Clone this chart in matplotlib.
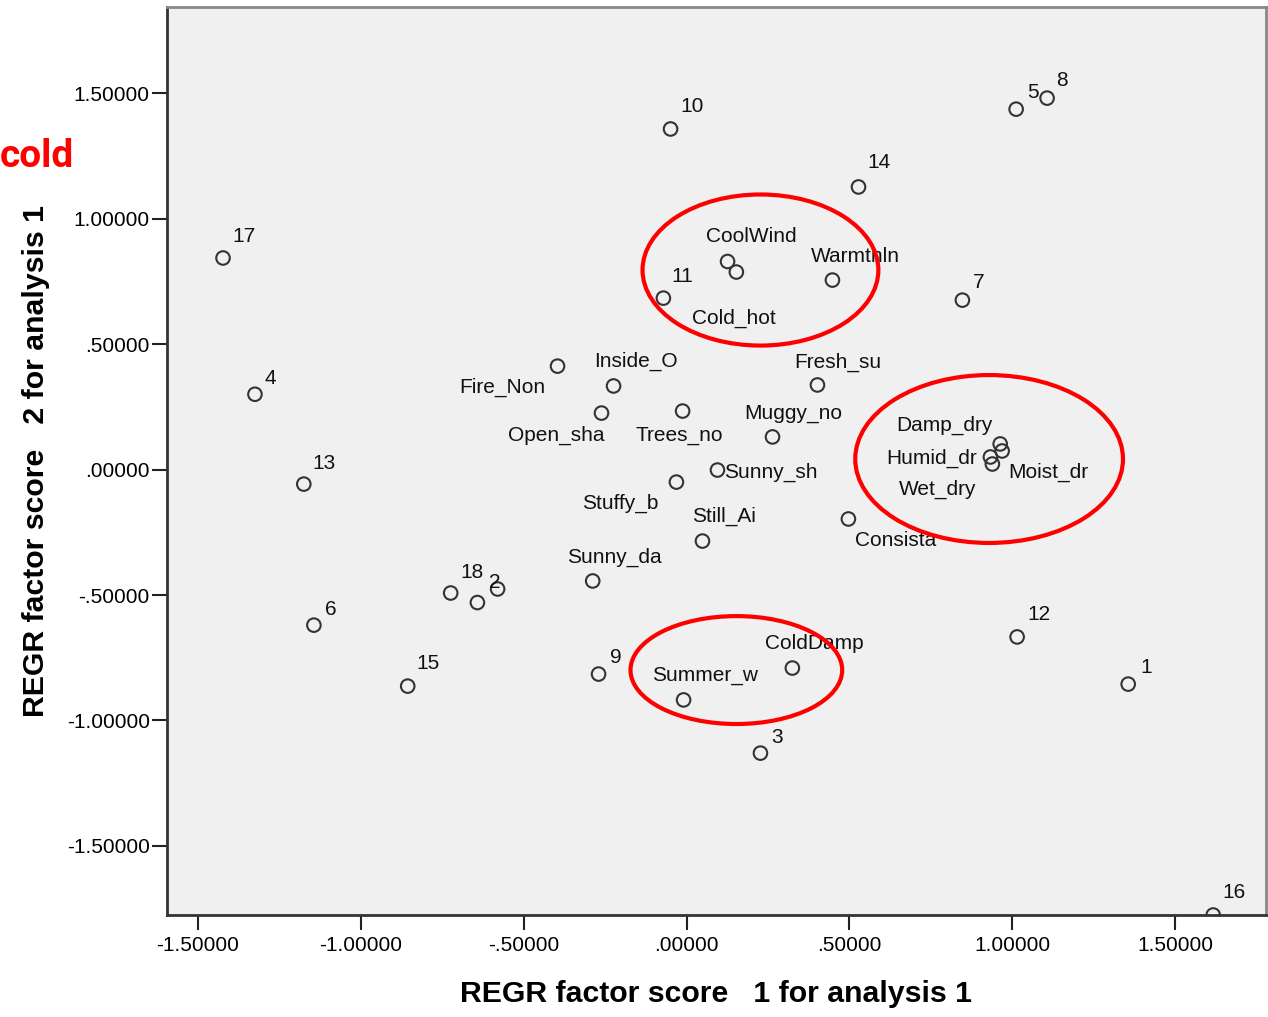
import matplotlib.pyplot as plt
from matplotlib.patches import Ellipse

plt.rcParams['font.family'] = ['Liberation Sans', 'DejaVu Sans']

# case scores (factor 1, factor 2)
case_ids = ['1', '2', '3', '4', '5', '6', '7', '8', '9', '10',
            '11', '12', '13', '14', '15', '16', '17', '18']
case_f1 = [1.356, -0.642, 0.227, -1.325, 1.012, -1.144, 0.847, 1.107, -0.270, -0.049,
           -0.071, 1.015, -1.175, 0.528, -0.856, 1.617, -1.423, -0.724]
case_f2 = [-0.855, -0.530, -1.130, 0.300, 1.436, -0.620, 0.675, 1.480, -0.815, 1.357,
           0.683, -0.667, -0.058, 1.126, -0.863, -1.775, 0.843, -0.492]
case_off = [(12, 17), (12, 20), (11, 16), (10, 16), (11, 17), (11, 16), (10, 18), (9, 18), (11, 17), (10, 22),
            (8, 22), (10, 22), (9, 21), (9, 24), (9, 23), (9, 22), (9, 21), (10, 21)]

# variable scores
var_names = ['CoolWind', 'Cold_hot', 'Warmthln', 'Fire_Non', 'Inside_O', 'Open_sha',
             'Trees_no', 'Fresh_su', 'Muggy_no', 'Sunny_sh', 'Stuffy_b', 'Still_Ai',
             'Consista', 'Sunny_da', 'Summer_w', 'ColdDamp', 'Damp_dry', 'Moist_dr',
             'Humid_dr', 'Wet_dry', '']
var_f1 = [0.126, 0.153, 0.448, -0.396, -0.224, -0.261,
          -0.012, 0.402, 0.264, 0.095, -0.031, 0.049,
          0.497, -0.288, -0.009, 0.325, 0.963, 0.969,
          0.933, 0.939, -0.580]
var_f2 = [0.829, 0.787, 0.755, 0.412, 0.333, 0.225,
          0.233, 0.337, 0.130, -0.002, -0.050, -0.285,
          -0.197, -0.444, -0.918, -0.791, 0.102, 0.074,
          0.050, 0.022, -0.476]
var_off = [(-22, 25), (-44, -46), (-22, 24), (-98, -21), (-19, 25), (-94, -22),
           (-47, -24), (-23, 23), (-28, 23), (7, -2), (-94, -21), (-10, 25),
           (7, -22), (-26, 24), (-32, 24), (-27, 25), (-104, 19), (6, -21),
           (-104, -1), (-93, -25), (0, 0)]

# red highlight rings: centre x, centre y, width, height
ring_x = [0.227, 0.929, 0.153]
ring_y = [0.795, 0.042, -0.799]
ring_w = [0.724, 0.822, 0.650]
ring_h = [0.602, 0.669, 0.430]

fig = plt.figure(figsize=(12.68, 10.17), dpi=100)
ax = fig.add_axes([0.1317, 0.1003, 0.8667, 0.8928])
ax.set_facecolor('#f0f0f0')

ax.scatter(case_f1 + var_f1, case_f2 + var_f2, s=95, facecolors='none',
           edgecolors='#333333', linewidths=1.5, zorder=3)

for lab, x, y, off in zip(case_ids + var_names, case_f1 + var_f1, case_f2 + var_f2,
                          case_off + var_off):
    if lab:
        ax.annotate(lab, (x, y), xytext=off, textcoords='offset pixels',
                    ha='left', va='center', fontsize=15, color='#111111', zorder=4)

for cx, cy, w, h in zip(ring_x, ring_y, ring_w, ring_h):
    ax.add_patch(Ellipse((cx, cy), w, h, fill=False, edgecolor='red', linewidth=3, zorder=5))

ax.set_xlim(-1.595, 1.779)
ax.set_ylim(-1.775, 1.843)
ticks = [-1.5, -1.0, -0.5, 0.0, 0.5, 1.0, 1.5]


def fmt(v):
    s = '%.5f' % v
    return s.replace('0.', '.', 1) if abs(v) < 1 else s


ax.set_xticks(ticks)
ax.set_xticklabels([fmt(t) for t in ticks])
ax.set_yticks(ticks)
ax.set_yticklabels([fmt(t) for t in ticks])
ax.tick_params(direction='out', length=11, width=1.5, color='#222222', labelsize=15)
ax.tick_params(axis='x', pad=4)
ax.tick_params(axis='y', pad=1.5)

for side in ['left', 'bottom']:
    ax.spines[side].set_linewidth(2)
    ax.spines[side].set_color('#333333')
for side in ['top', 'right']:
    ax.spines[side].set_linewidth(2)
    ax.spines[side].set_color('#888888')

ax.set_xlabel('REGR factor score   1 for analysis 1', fontsize=21.8, fontweight='bold', labelpad=18)
ax.set_ylabel('REGR factor score   2 for analysis 1', fontsize=21.8, fontweight='bold', labelpad=12)

fig.text(0.0, 0.846, 'cold', color='red', fontsize=28, fontweight='bold',
         family=['Roboto', 'DejaVu Sans'], ha='left', va='center')

fig.savefig('out.png', dpi=100)
